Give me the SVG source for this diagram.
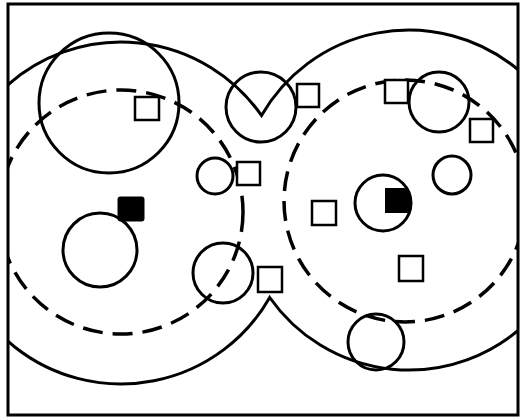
<svg xmlns="http://www.w3.org/2000/svg" width="520" height="417" viewBox="0 0 520 417">
<style>
.s{fill:none;stroke:#000;stroke-width:3}
.d{fill:none;stroke:#000;stroke-width:3.5;stroke-dasharray:20 10}
.c{fill:#fff;stroke:#000;stroke-width:3}
.q{fill:#fff;stroke:#000;stroke-width:2.5}
.b{fill:#000;stroke:#000;stroke-width:1}
</style>
<defs>
<clipPath id="frameClip"><rect x="8" y="4" width="510" height="411"/></clipPath>
<clipPath id="c8clip"><circle cx="383" cy="203" r="28"/></clipPath>
</defs>
<rect width="520" height="417" fill="#fff"/>
<g id="zones" clip-path="url(#frameClip)">
<path id="outer" class="s" d="M261.5,115.5 A171,171 0 1 0 269.7,297.5 A170,170 0 1 0 261.5,115.5 Z"/>
<circle id="dashLeft" class="d" cx="121" cy="212" r="122"/>
<circle id="dashRight" class="d" cx="405" cy="201" r="121"/>
</g>
<g id="connectors"></g>
<g id="circles">
<circle id="c1" class="s" cx="109" cy="103" r="70"/>
<circle id="c2" class="s" cx="261" cy="107" r="35"/>
<circle id="c3" class="s" cx="215" cy="176" r="18"/>
<circle id="c4" class="s" cx="100" cy="250" r="37"/>
<circle id="c5" class="s" cx="223" cy="273" r="30"/>
<circle id="c6" class="s" cx="439" cy="102" r="30"/>
<circle id="c7" class="s" cx="452" cy="175" r="19"/>
<g id="c8">
<rect x="385" y="188" width="30" height="25" fill="#000" clip-path="url(#c8clip)"/>
<circle class="s" cx="383" cy="203" r="28"/>
</g>
<circle id="c9" class="s" cx="376" cy="342" r="28"/>
</g>
<g id="squares">
<rect id="sa" class="q" x="135" y="97" width="24" height="23"/>
<rect id="sb" class="q" x="237" y="162" width="23" height="23"/>
<rect id="sc" class="q" x="297" y="84" width="22" height="23"/>
<rect id="sd" class="q" x="385" y="80" width="23" height="23"/>
<rect id="se" class="q" x="470" y="119" width="23" height="23"/>
<rect id="sf" class="q" x="312" y="201" width="24" height="24"/>
<rect id="sg" class="q" x="399" y="256" width="24" height="25"/>
<rect id="sh" class="q" x="258" y="267" width="24" height="25"/>
<rect id="si" class="b" x="118" y="197" width="26" height="24" rx="2"/>
</g>
<rect id="frame" class="s" x="8" y="4" width="510" height="411"/>
</svg>
